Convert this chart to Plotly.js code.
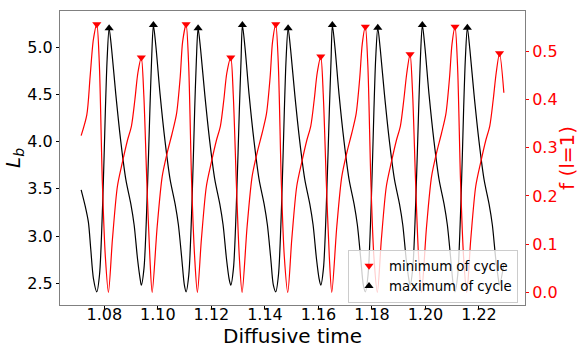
<!DOCTYPE html>
<html>
<head>
<meta charset="utf-8">
<script src="https://cdn.plot.ly/plotly-3.0.1.min.js"></script>
<style>
  html, body { margin: 0; padding: 0; background: #fff; }
  #cycle-graph { width: 581px; height: 347px; }
</style>
</head>
<body>
<div id="cycle-graph"></div>
<script>
'use strict';

const ID = 'cycle-graph';

// L_b against diffusive time (black curve)
const lbTime = [
  1.0713, 1.0728, 1.0740, 1.0749, 1.0759, 1.07716,
  1.07817, 1.0794, 1.08037, 1.08101, 1.08176,
  1.08269, 1.08426, 1.08613, 1.088, 1.08987, 1.0911, 1.09237, 1.09334, 1.09379,
  1.0948, 1.09603, 1.097, 1.09764, 1.09831,
  1.09924, 1.10081, 1.10268, 1.10455, 1.10642, 1.10765, 1.10892, 1.10989, 1.11053,
  1.11154, 1.11277, 1.11374, 1.11438, 1.11501,
  1.11594, 1.11751, 1.11938, 1.12125, 1.12312, 1.12435, 1.12562, 1.12659, 1.12723,
  1.12824, 1.12947, 1.13044, 1.13108, 1.13157,
  1.1325, 1.13407, 1.13594, 1.13781, 1.13968, 1.14091, 1.14218, 1.14315, 1.14405,
  1.14506, 1.14629, 1.14726, 1.1479, 1.14865,
  1.14958, 1.15115, 1.15302, 1.15489, 1.15676, 1.15799, 1.15926, 1.16023, 1.16087,
  1.16188, 1.16311, 1.16408, 1.16472, 1.1652,
  1.16613, 1.1677, 1.16957, 1.17144, 1.17331, 1.17454, 1.17581, 1.17678, 1.17753,
  1.17854, 1.17977, 1.18074, 1.18138, 1.18217,
  1.1831, 1.18467, 1.18654, 1.18841, 1.19028, 1.19151, 1.19278, 1.19375, 1.19424,
  1.19525, 1.19648, 1.19745, 1.19809, 1.19883,
  1.19976, 1.20133, 1.2032, 1.20507, 1.20694, 1.20817, 1.20944, 1.21041, 1.21105,
  1.21206, 1.21329, 1.21426, 1.2149, 1.21565,
  1.21658, 1.21815, 1.22002, 1.22189, 1.22376, 1.22499, 1.22626, 1.22723, 1.22768,
  1.2293
];
const lbValue = [
  3.49, 3.32, 3.15, 2.86, 2.55, 2.41,
  2.59, 3.39, 4.34, 4.87, 5.20,
  4.98, 4.50, 4.00, 3.60, 3.34, 3.12, 2.76, 2.55, 2.48,
  2.66, 3.46, 4.34, 4.87, 5.235,
  5.01, 4.50, 4.00, 3.60, 3.34, 3.12, 2.76, 2.48, 2.41,
  2.59, 3.39, 4.34, 4.87, 5.20,
  4.98, 4.50, 4.00, 3.60, 3.34, 3.12, 2.76, 2.55, 2.48,
  2.66, 3.46, 4.34, 4.87, 5.235,
  5.01, 4.50, 4.00, 3.60, 3.34, 3.12, 2.76, 2.48, 2.41,
  2.59, 3.39, 4.34, 4.87, 5.20,
  4.98, 4.50, 4.00, 3.60, 3.34, 3.12, 2.76, 2.55, 2.48,
  2.66, 3.46, 4.34, 4.87, 5.235,
  5.01, 4.50, 4.00, 3.60, 3.34, 3.12, 2.76, 2.48, 2.41,
  2.59, 3.39, 4.34, 4.87, 5.205,
  4.98, 4.50, 4.00, 3.60, 3.34, 3.12, 2.76, 2.55, 2.48,
  2.66, 3.46, 4.34, 4.87, 5.235,
  5.01, 4.50, 4.00, 3.60, 3.34, 3.12, 2.76, 2.48, 2.41,
  2.59, 3.39, 4.34, 4.87, 5.205,
  4.98, 4.50, 4.00, 3.60, 3.34, 3.12, 2.76, 2.55, 2.48,
  2.70
];

// f (l=1) against diffusive time (red curve)
const fTime = [
  1.0713, 1.07342, 1.07466, 1.07589, 1.07716,
  1.07809, 1.07922, 1.08034, 1.0815,
  1.083, 1.08486, 1.08673, 1.0886, 1.0901, 1.0914, 1.0925, 1.09379,
  1.09472, 1.09585, 1.09697, 1.09785,
  1.09972, 1.10159, 1.10345, 1.10532, 1.10695, 1.10831, 1.10924, 1.11053,
  1.11146, 1.11259, 1.11371, 1.11475,
  1.11625, 1.11811, 1.11998, 1.12185, 1.12335, 1.12465, 1.12575, 1.12723,
  1.12816, 1.12929, 1.13041, 1.13146,
  1.13333, 1.1352, 1.13706, 1.13893, 1.14056, 1.14192, 1.14285, 1.14405,
  1.14498, 1.14611, 1.14723, 1.14853,
  1.15003, 1.15189, 1.15376, 1.15563, 1.15713, 1.15843, 1.15953, 1.16087,
  1.1618, 1.16293, 1.16405, 1.16498,
  1.16685, 1.16872, 1.17058, 1.17245, 1.17408, 1.17544, 1.17637, 1.17753,
  1.17846, 1.17959, 1.18071, 1.18202,
  1.18352, 1.18538, 1.18725, 1.18912, 1.19062, 1.19192, 1.19302, 1.19424,
  1.19517, 1.1963, 1.19742, 1.19853,
  1.2004, 1.20227, 1.20413, 1.206, 1.20763, 1.20899, 1.20992, 1.21105,
  1.21198, 1.21311, 1.21423, 1.21543,
  1.21693, 1.21879, 1.22066, 1.22253, 1.22403, 1.22533, 1.22643, 1.22768,
  1.2293
];
const fValue = [
  0.325, 0.368, 0.448, 0.525, 0.556,
  0.476, 0.23, 0.075, 0.0,
  0.11, 0.22, 0.27, 0.315, 0.345, 0.40, 0.455, 0.487,
  0.41, 0.23, 0.075, 0.0,
  0.136, 0.24, 0.289, 0.33, 0.37, 0.445, 0.52, 0.556,
  0.476, 0.23, 0.075, 0.0,
  0.11, 0.22, 0.27, 0.315, 0.345, 0.40, 0.455, 0.487,
  0.41, 0.23, 0.075, 0.0,
  0.136, 0.24, 0.289, 0.33, 0.37, 0.445, 0.52, 0.556,
  0.476, 0.23, 0.075, 0.0,
  0.11, 0.22, 0.27, 0.315, 0.345, 0.40, 0.455, 0.489,
  0.41, 0.23, 0.075, 0.0,
  0.136, 0.24, 0.289, 0.33, 0.37, 0.445, 0.515, 0.551,
  0.471, 0.23, 0.075, 0.0,
  0.11, 0.22, 0.27, 0.315, 0.345, 0.40, 0.455, 0.494,
  0.415, 0.23, 0.075, 0.0,
  0.136, 0.24, 0.289, 0.33, 0.37, 0.445, 0.515, 0.551,
  0.471, 0.23, 0.075, 0.0,
  0.11, 0.22, 0.27, 0.315, 0.345, 0.40, 0.455, 0.496,
  0.414
];

// marked points of each cycle
const minCycleTime = [1.07716, 1.09379, 1.11053, 1.12723, 1.14405, 1.16087, 1.17753, 1.19424, 1.21105, 1.22768];
const minCycleValue = [0.556, 0.487, 0.556, 0.487, 0.556, 0.489, 0.551, 0.494, 0.551, 0.496];
const maxCycleTime = [1.08176, 1.09831, 1.11501, 1.13157, 1.14865, 1.1652, 1.18217, 1.19883, 1.21565];
const maxCycleValue = [5.20, 5.235, 5.20, 5.235, 5.20, 5.235, 5.205, 5.235, 5.205];

const FONT = 'DejaVu Sans, sans-serif';
const RED = '#ff0000';

const data = [];

data.push({
  x: lbTime,
  y: lbValue,
  type: 'scatter',
  mode: 'lines',
  line: { color: '#000000', width: 1.2, shape: 'spline', smoothing: 0.8 },
  showlegend: false,
  hoverinfo: 'skip'
});
data.push({
  x: fTime,
  y: fValue,
  yaxis: 'y2',
  type: 'scatter',
  mode: 'lines',
  line: { color: RED, width: 1.2, shape: 'spline', smoothing: 0.8 },
  showlegend: false,
  hoverinfo: 'skip'
});
data.push({
  x: minCycleTime,
  y: minCycleValue,
  yaxis: 'y2',
  name: 'minimum of cycle',
  type: 'scatter',
  mode: 'markers',
  marker: { symbol: 'triangle-down', color: RED, size: 8 }
});
data.push({
  x: maxCycleTime,
  y: maxCycleValue,
  name: 'maximum of cycle',
  type: 'scatter',
  mode: 'markers',
  marker: { symbol: 'triangle-up', color: '#000000', size: 8 }
});

// axis titles placed by hand, like matplotlib does
const annotations = [{
  text: 'Diffusive time',
  xref: 'paper', yref: 'paper',
  x: 0.5, y: 0,
  xanchor: 'center', yanchor: 'middle',
  yshift: -31,
  showarrow: false,
  font: { size: 20, color: '#000000' }
}, {
  text: '<i>L</i><sub><i>b</i></sub>',
  xref: 'paper', yref: 'paper',
  x: 0, y: 0.5,
  xanchor: 'center', yanchor: 'middle',
  xshift: -46,
  textangle: -90,
  showarrow: false,
  font: { size: 20, color: '#000000' }
}, {
  text: 'f (l=1)',
  xref: 'paper', yref: 'paper',
  x: 1, y: 0.5,
  xanchor: 'center', yanchor: 'middle',
  xshift: 42,
  textangle: -90,
  showarrow: false,
  font: { size: 20, color: RED }
}];

const layout = {
  width: 581,
  height: 347,
  margin: { l: 60, r: 56, t: 11, b: 42 },
  paper_bgcolor: '#ffffff',
  plot_bgcolor: '#ffffff',
  font: { family: FONT, size: 16, color: '#000000' },
  annotations: annotations,
  xaxis: {
    range: [1.0634, 1.2372],
    tick0: 1.08,
    dtick: 0.02,
    tickformat: '.2f',
    ticks: 'outside',
    ticklen: 3,
    tickcolor: '#000000',
    tickfont: { size: 16 },
    ticklabelstandoff: -8,
    showline: true,
    linecolor: '#808080',
    linewidth: 1,
    mirror: true,
    showgrid: false,
    zeroline: false
  },
  yaxis: {
    range: [2.27, 5.383],
    tick0: 2.5,
    dtick: 0.5,
    tickformat: '.1f',
    ticks: 'outside',
    ticklen: 3,
    tickcolor: '#000000',
    tickfont: { size: 16 },
    showline: true,
    linecolor: '#808080',
    linewidth: 1,
    mirror: true,
    showgrid: false,
    zeroline: false
  },
  yaxis2: {
    overlaying: 'y',
    side: 'right',
    range: [-0.0263, 0.5836],
    tick0: 0,
    dtick: 0.1,
    tickformat: '.1f',
    ticks: 'outside',
    ticklen: 3,
    tickcolor: RED,
    tickfont: { size: 16, color: RED },
    showline: false,
    showgrid: false,
    zeroline: false
  },
  legend: {
    x: 0.985,
    y: 0.008,
    xanchor: 'right',
    yanchor: 'bottom',
    bgcolor: 'rgba(255,255,255,0.8)',
    bordercolor: '#cccccc',
    borderwidth: 1,
    font: { size: 13.3 },
    traceorder: 'normal'
  },
  showlegend: true
};

Plotly.newPlot(ID, data, layout, { staticPlot: true, displayModeBar: false });
</script>
</body>
</html>
